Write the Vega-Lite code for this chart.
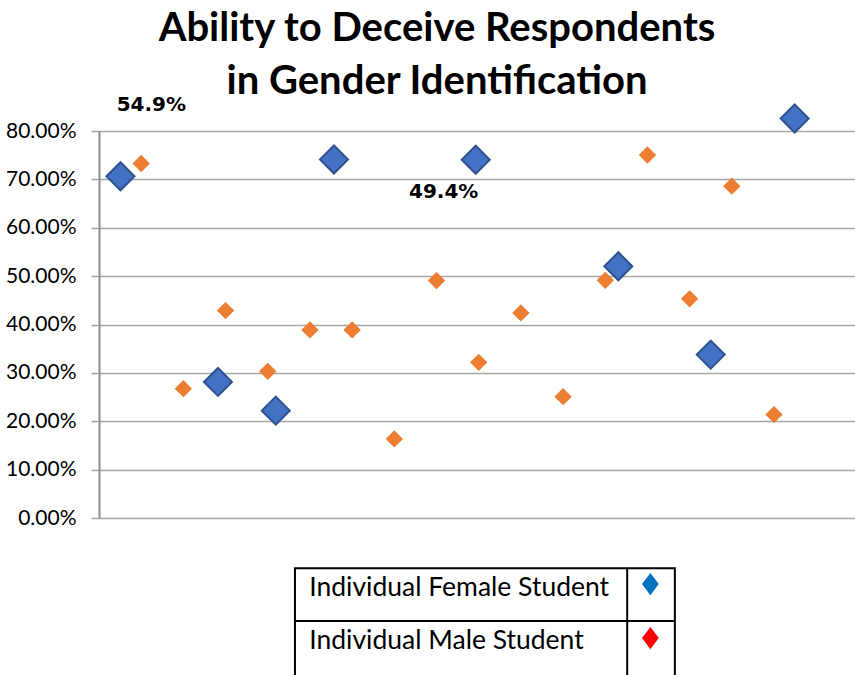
{
  "$schema": "https://vega.github.io/schema/vega-lite/v6.json",
  "width": 756,
  "height": 387,
  "autosize": "none",
  "padding": {"left": 99, "top": 131, "right": 0, "bottom": 157},
  "background": "white",
  "config": {
    "view": {"stroke": null},
    "font": "Lato"
  },
  "title": {
    "text": ["Ability to Deceive Respondents", "in Gender Identification"],
    "font": "Lato",
    "fontSize": 40,
    "fontWeight": "bold",
    "color": "#000000",
    "anchor": "middle",
    "frame": "group",
    "dx": -40,
    "offset": -7,
    "lineHeight": 53
  },
  "datasets": {
    "points": [
      {"series": "Individual Female Student", "x": 0.51, "y": 0.7065},
      {"series": "Individual Female Student", "x": 2.82, "y": 0.2813},
      {"series": "Individual Female Student", "x": 4.19, "y": 0.2219},
      {"series": "Individual Female Student", "x": 5.57, "y": 0.7411},
      {"series": "Individual Female Student", "x": 8.93, "y": 0.7405},
      {"series": "Individual Female Student", "x": 12.31, "y": 0.5204},
      {"series": "Individual Female Student", "x": 14.5, "y": 0.3378},
      {"series": "Individual Female Student", "x": 16.49, "y": 0.8259},
      {"series": "Individual Male Student", "x": 1, "y": 0.7328},
      {"series": "Individual Male Student", "x": 2, "y": 0.2674},
      {"series": "Individual Male Student", "x": 3, "y": 0.4288},
      {"series": "Individual Male Student", "x": 4, "y": 0.3032},
      {"series": "Individual Male Student", "x": 5, "y": 0.3888},
      {"series": "Individual Male Student", "x": 6, "y": 0.3888},
      {"series": "Individual Male Student", "x": 7, "y": 0.1634},
      {"series": "Individual Male Student", "x": 8, "y": 0.4908},
      {"series": "Individual Male Student", "x": 9, "y": 0.3218},
      {"series": "Individual Male Student", "x": 10, "y": 0.4240},
      {"series": "Individual Male Student", "x": 11, "y": 0.2509},
      {"series": "Individual Male Student", "x": 12, "y": 0.4914},
      {"series": "Individual Male Student", "x": 13, "y": 0.7504},
      {"series": "Individual Male Student", "x": 14, "y": 0.4530},
      {"series": "Individual Male Student", "x": 15, "y": 0.6859},
      {"series": "Individual Male Student", "x": 16, "y": 0.2137}
    ]
  },
  "layer": [
    {
      "data": {"name": "points"},
      "transform": [{"filter": "datum.series === 'Individual Male Student'"}],
      "mark": {"type": "point", "shape": "diamond", "filled": true, "size": 300, "color": "#ED7D31", "opacity": 1, "clip": false},
      "encoding": {
        "x": {"field": "x", "type": "quantitative", "scale": {"domain": [0, 17.92], "nice": false, "zero": false}, "axis": null},
        "y": {"field": "y", "type": "quantitative", "scale": {"domain": [0, 0.8], "nice": false},
          "axis": {"title": null, "values": [0, 0.1, 0.2, 0.3, 0.4, 0.5, 0.6, 0.7, 0.8], "format": ".2%",
            "grid": true, "gridColor": "#A6A6A6", "gridWidth": 1.5,
            "ticks": true, "tickSize": 8, "tickColor": "#A6A6A6", "tickWidth": 1.5,
            "domain": true, "domainColor": "#8C8C8C", "domainWidth": 2,
            "labelFont": "Lato", "labelFontSize": 21, "labelColor": "#000000", "labelPadding": 15}}
      }
    },
    {
      "data": {"name": "points"},
      "transform": [{"filter": "datum.series === 'Individual Female Student'"}],
      "mark": {"type": "point", "shape": "diamond", "filled": true, "size": 784, "fill": "#4472C4", "stroke": "#2F528F", "strokeWidth": 2, "opacity": 1, "clip": false},
      "encoding": {
        "x": {"field": "x", "type": "quantitative"},
        "y": {"field": "y", "type": "quantitative"}
      }
    },
    {
      "data": {"values": [{"label": "54.9%"}]},
      "mark": {"type": "text", "font": "DejaVu Sans", "fontWeight": "bold", "fontSize": 20, "color": "#000000", "align": "center", "baseline": "alphabetic"},
      "encoding": {"x": {"datum": 1.24}, "y": {"datum": 0.8404}, "text": {"field": "label"}}
    },
    {
      "data": {"values": [{"label": "49.4%"}]},
      "mark": {"type": "text", "font": "DejaVu Sans", "fontWeight": "bold", "fontSize": 20, "color": "#000000", "align": "center", "baseline": "alphabetic"},
      "encoding": {"x": {"datum": 8.17}, "y": {"datum": 0.6613}, "text": {"field": "label"}}
    },
    {
      "data": {"values": [{"label": "legend box"}]},
      "mark": {"type": "rect", "fill": null, "stroke": "#000000", "strokeWidth": 2, "clip": false},
      "encoding": {"x": {"datum": 4.645}, "x2": {"datum": 13.65}, "y": {"datum": -0.104}, "y2": {"datum": -0.4}}
    },
    {
      "data": {"values": [{"label": "row divider"}]},
      "mark": {"type": "rule", "stroke": "#000000", "strokeWidth": 2, "clip": false},
      "encoding": {"x": {"datum": 4.645}, "x2": {"datum": 13.65}, "y": {"datum": -0.213}}
    },
    {
      "data": {"values": [{"label": "column divider"}]},
      "mark": {"type": "rule", "stroke": "#000000", "strokeWidth": 2, "clip": false},
      "encoding": {"x": {"datum": 12.52}, "y": {"datum": -0.104}, "y2": {"datum": -0.4}}
    },
    {
      "data": {"values": [{"label": "Individual Female Student"}]},
      "mark": {"type": "text", "font": "Lato", "fontSize": 26.5, "color": "#000000", "align": "left", "baseline": "alphabetic", "clip": false},
      "encoding": {"x": {"datum": 4.983}, "y": {"datum": -0.1607}, "text": {"field": "label"}}
    },
    {
      "data": {"values": [{"label": "Individual Male Student"}]},
      "mark": {"type": "text", "font": "Lato", "fontSize": 26.5, "color": "#000000", "align": "left", "baseline": "alphabetic", "clip": false},
      "encoding": {"x": {"datum": 4.983}, "y": {"datum": -0.2716}, "text": {"field": "label"}}
    },
    {
      "data": {"values": [{"label": "Individual Female Student"}]},
      "mark": {"type": "point", "shape": "M0,-1L0.75,0L0,1L-0.75,0Z", "filled": true, "size": 497, "color": "#0070C0", "opacity": 1, "clip": false},
      "encoding": {"x": {"datum": 13.07}, "y": {"datum": -0.1365}}
    },
    {
      "data": {"values": [{"label": "Individual Male Student"}]},
      "mark": {"type": "point", "shape": "M0,-1L0.75,0L0,1L-0.75,0Z", "filled": true, "size": 497, "color": "#FF0000", "opacity": 1, "clip": false},
      "encoding": {"x": {"datum": 13.07}, "y": {"datum": -0.2482}}
    }
  ]
}
